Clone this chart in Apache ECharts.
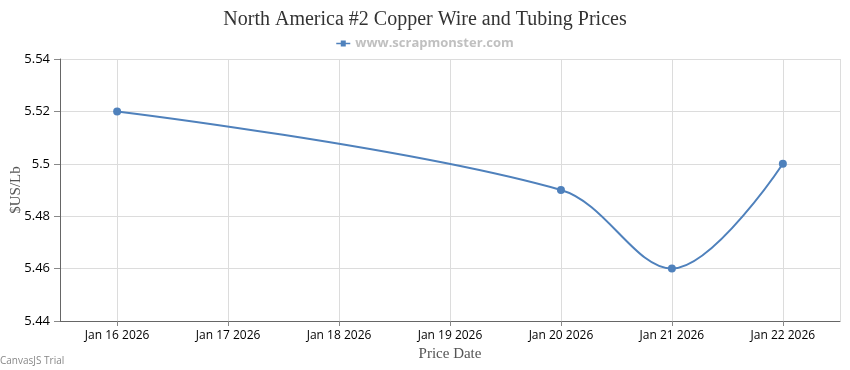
<!DOCTYPE html>
<html><head><meta charset="utf-8">
<script src="https://cdn.jsdelivr.net/npm/echarts@6/dist/echarts.min.js"></script>
<style>html,body{margin:0;padding:0;background:#fff}#c{width:850px;height:370px}</style>
</head><body><div id="c"></div>
<script>
var titleText = 'North America #2 Copper Wire and Tubing Prices';
var seriesName = 'www.scrapmonster.com';
var dates = ['2026-01-16', '2026-01-20', '2026-01-21', '2026-01-22'];
var prices = [5.52, 5.49, 5.46, 5.50];
var yMin = 5.44, yMax = 5.54, yStep = 0.02;
var xTitle = 'Price Date', yTitle = '$US/Lb';
var MONTHS = ['Jan','Feb','Mar','Apr','May','Jun','Jul','Aug','Sep','Oct','Nov','Dec'];

function toTs(s){ var p = s.split('-'); return new Date(+p[0], +p[1]-1, +p[2]).getTime(); }
var DAY = 86400000;
var pts = dates.map(function(d,i){ return [toTs(d), prices[i]]; });
var pad = 0.515 * DAY;

var chart = echarts.init(document.getElementById('c'), null, {renderer:'canvas'});
chart.setOption({
  animation: false,
  title: { text: titleText, left: 'center', top: 5,
    textStyle: { fontFamily: '"Liberation Serif","DejaVu Serif",serif', fontSize: 20, fontWeight: 'normal', color: '#333' } },
  legend: { top: 32, left: 'center', itemWidth: 14, itemHeight: 8, itemGap: 5,
    icon: 'path://M0,3.2 L4.5,3.2 L4.5,1 L9.5,1 L9.5,3.2 L14,3.2 L14,4.8 L9.5,4.8 L9.5,7 L4.5,7 L4.5,4.8 L0,4.8 Z',
    textStyle: { fontFamily: '"Open Sans",sans-serif', fontSize: 13, fontWeight: 'bold', color: '#c0c0c0' },
    data: [seriesName] },
  grid: { left: 60, right: 10, top: 59, bottom: 49, containLabel: false, outerBoundsMode: 'none' },
  xAxis: { type: 'time',
    min: pts[0][0] - pad, max: pts[pts.length-1][0] + pad,
    minInterval: DAY, maxInterval: DAY,
    name: xTitle, nameLocation: 'middle', nameGap: 25,
    nameTextStyle: { fontFamily: '"Liberation Serif","DejaVu Serif",serif', fontSize: 15, color: '#555' },
    axisLine: { lineStyle: { color: '#666', width: 1 } },
    axisTick: { show: true, length: 5, lineStyle: { color: '#888' } },
    axisLabel: { color: '#000', fontFamily: '"Open Sans","DejaVu Sans",sans-serif', fontSize: 12, margin: 9,
      hideOverlap: false, showMinLabel: false, showMaxLabel: false,
      formatter: function(v){ var d = new Date(v); return MONTHS[d.getMonth()] + ' ' + d.getDate() + ' ' + d.getFullYear(); } },
    splitLine: { show: true, lineStyle: { color: '#dcdcdc', width: 1 } }
  },
  yAxis: { type: 'value', min: yMin, max: yMax, interval: yStep,
    name: yTitle, nameLocation: 'middle', nameGap: 36, nameRotate: 90, nameMoveOverlap: false,
    nameTextStyle: { fontFamily: '"Liberation Serif","DejaVu Serif",serif', fontSize: 15, color: '#555' },
    axisLine: { show: true, lineStyle: { color: '#666', width: 1 } },
    axisTick: { show: true, length: 6, lineStyle: { color: '#888' } },
    axisLabel: { color: '#000', fontFamily: '"Open Sans","DejaVu Sans",sans-serif', fontSize: 13, margin: 10,
      formatter: function(v){ return String(+v.toFixed(2)); } },
    splitLine: { lineStyle: { color: '#dcdcdc', width: 1 } }
  },
  series: [{ name: seriesName, type: 'line', data: pts, smooth: 0.35,
    symbol: 'circle', symbolSize: 8, showSymbol: true,
    lineStyle: { color: '#4f81bc', width: 2 },
    itemStyle: { color: '#4f81bc' } }],
  graphic: [{ type: 'text', left: 0, top: 356,
    style: { text: 'CanvasJS Trial', fontFamily: '"Open Sans",sans-serif', fontSize: 10, fill: '#888' } }]
});
</script></body></html>
